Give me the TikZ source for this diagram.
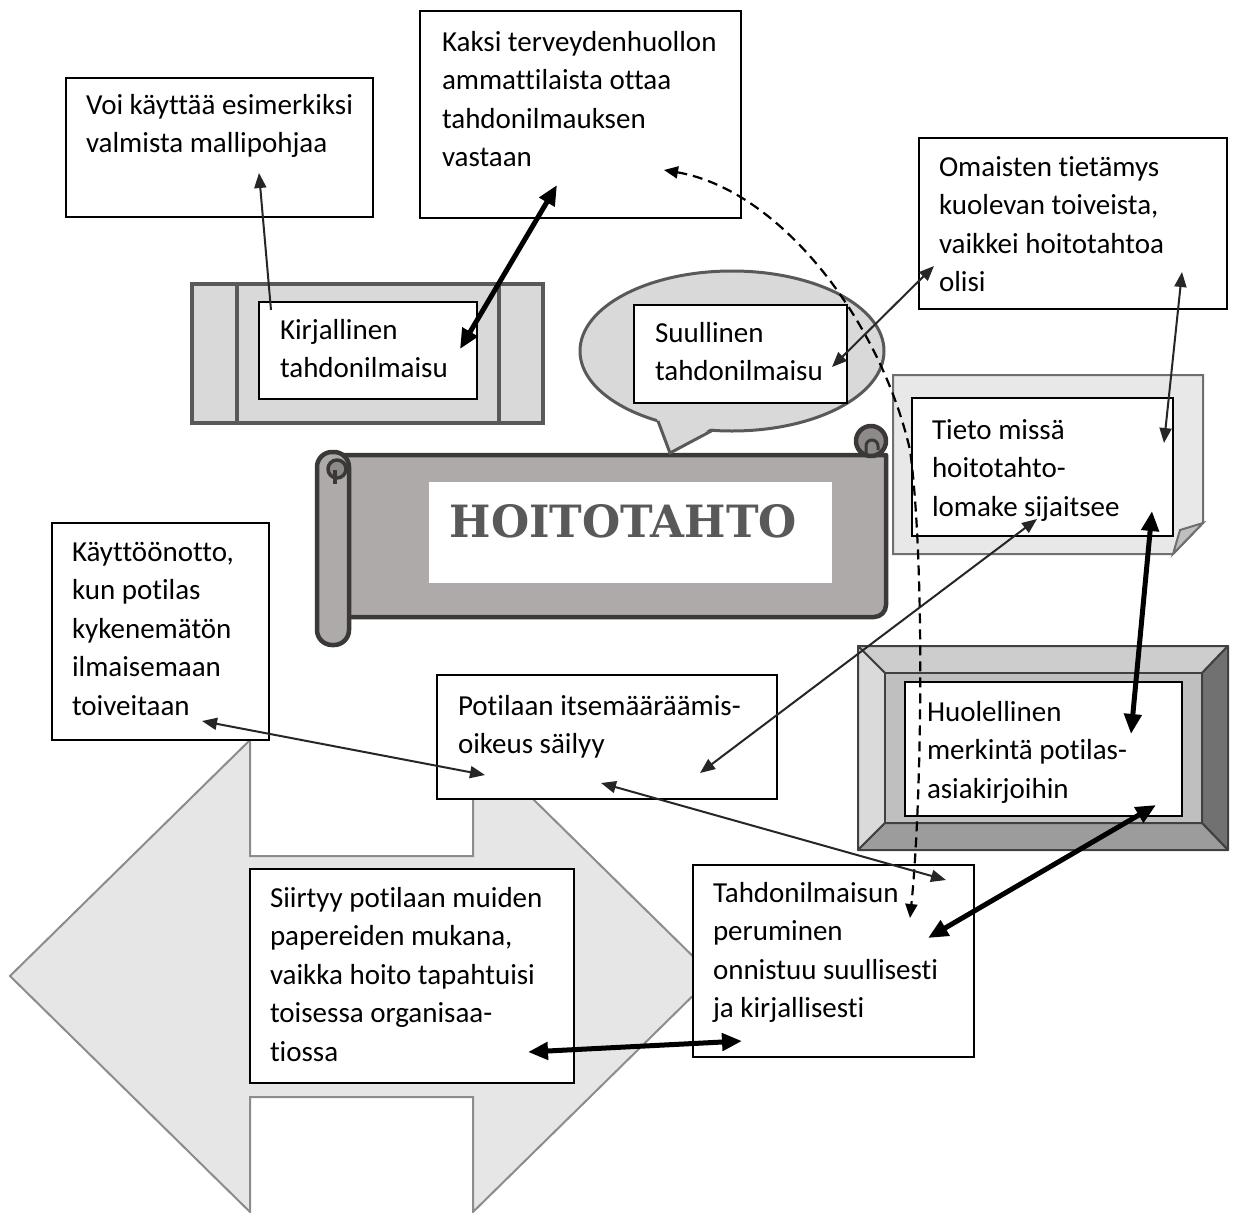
\documentclass[tikz,border=0pt]{standalone}
\usepackage{fontspec}
\setmainfont{Carlito}[Ligatures={NoCommon}]
\newfontfamily\titlefont{DejaVu Serif}
\usepackage{graphicx}
\usetikzlibrary{arrows.meta}
\definecolor{frameline}{HTML}{595959}
\definecolor{framefill}{HTML}{D9D9D9}
\definecolor{scrollfill}{HTML}{AEAAAA}
\definecolor{scrollline}{HTML}{3B3838}
\definecolor{rolldark}{HTML}{8E8A8A}
\definecolor{notefill}{HTML}{E8E8E8}
\definecolor{noteline}{HTML}{6F6F6F}
\definecolor{foldfill}{HTML}{BFBFBF}
\definecolor{bevtop}{HTML}{CDCDCD}
\definecolor{bevleft}{HTML}{DADADA}
\definecolor{bevright}{HTML}{717171}
\definecolor{bevbottom}{HTML}{9C9C9C}
\definecolor{bevinner}{HTML}{BFBFBF}
\definecolor{bevline}{HTML}{404040}
\definecolor{bigfill}{HTML}{E7E6E6}
\definecolor{bigline}{HTML}{8C8C8C}
\definecolor{titlegray}{HTML}{595959}
\definecolor{thinarrow}{HTML}{262626}
\newcommand{\boxtext}[1]{\parbox[t]{420pt}{\raggedright #1}}
\tikzset{
  tbox/.style={draw=black, line width=1.2pt, fill=white, anchor=north west, inner sep=0pt, outer sep=0pt},
  ttext/.style={anchor=base west, inner sep=0pt, outer sep=0pt, font=\fontsize{29}{38.5}\selectfont, text=black},
  framest/.style={draw=frameline, fill=framefill, line width=3.5pt},
  scrollst/.style={draw=scrollline, fill=scrollfill, line width=4.5pt, line join=round},
  bevst/.style={draw=bevline, line width=2pt, line join=round},
  thinarr/.style={draw=thinarrow, line width=2pt, {Triangle[length=15pt,width=12pt]}-{Triangle[length=15pt,width=12pt]}},
  thinone/.style={draw=thinarrow, line width=2pt, -{Triangle[length=15pt,width=12pt]}},
  thickarr/.style={draw=black, line width=5pt, {Triangle[length=20pt,width=17pt]}-{Triangle[length=20pt,width=17pt]}},
  dasharr/.style={draw=black, line width=2.2pt, dash pattern=on 10pt off 6pt, {Triangle[length=14pt,width=12pt]}-{Triangle[length=14pt,width=12pt]}}
}
\begin{document}
\begin{tikzpicture}[x=1pt,y=-1pt]
\useasboundingbox (0,0) rectangle (1235,1213);
\fill[white] (0,0) rectangle (1235,1213);

% big left-right arrow shape
\filldraw[fill=bigfill, draw=bigline, line width=2pt, line join=miter]
  (10,976) -- (250,740) -- (250,856) -- (473,856) -- (473,740) -- (713,976)
  -- (473,1212) -- (473,1097) -- (250,1097) -- (250,1212) -- cycle;

% top boxes
\node[tbox, minimum width=307pt, minimum height=139pt] (voi) at (66,78) {};
\node[ttext] (voit) at (86,114) {\boxtext{Voi käyttää esimerkiksi\\valmista mallipohjaa}};

\node[tbox, minimum width=321pt, minimum height=207pt] (kaksi) at (420,11) {};
\node[ttext] (kaksit) at (442,51) {\boxtext{Kaksi terveydenhuollon\\ammattilaista ottaa\\tahdonilmauksen\\vastaan}};

\node[tbox, minimum width=308pt, minimum height=171pt] (omaiset) at (919,138) {};
\node[ttext] (omaisett) at (939,176) {\boxtext{Omaisten tietämys\\kuolevan toiveista,\\vaikkei hoitotahtoa\\olisi}};

% Kirjallinen frame
\filldraw[framest] (192,284) rectangle (543,423);
\draw[frameline, line width=3.5pt] (237,284) -- (237,423) (499,284) -- (499,423);
\node[tbox, minimum width=218pt, minimum height=97pt] (kirj) at (259,302) {};
\node[ttext] (kirjt) at (280,339) {\boxtext{Kirjallinen\\tahdonilmaisu}};

% scroll
\filldraw[scrollst] (333,455) -- (886,455) -- (886,605) arc[start angle=0, end angle=90, radius=12] -- (333,617) -- cycle;
\filldraw[scrollst, fill=rolldark] (871,441) circle (15);
\draw[scrollline, line width=3pt] (866,455) -- (866,446) arc[start angle=180, end angle=360, radius=6] -- (878,450);
\filldraw[scrollst, rounded corners=15pt] (317,452) rectangle (349,645);
\filldraw[scrollst, fill=rolldark, line width=3.5pt] (337,469) circle (9);
\draw[scrollline, line width=3.5pt] (335,470) -- (335,484);
\node[fill=white, anchor=north west, inner sep=0pt, minimum width=403pt, minimum height=101pt] (title) at (429,482) {};
\node[inner sep=0pt, text=titlegray] (titlet) at (623.5,521.5) {\resizebox{347pt}{33pt}{\titlefont\bfseries HOITOTAHTO}};

% speech bubble
\filldraw[framest, line width=3pt] (732,351) ellipse [x radius=152, y radius=80];
\fill[framefill] (656,416) -- (670,453) -- (716,425) -- cycle;
\draw[frameline, line width=3pt, line join=miter] (658,421) -- (670,453) -- (713,430);
\node[tbox, minimum width=213pt, minimum height=98pt] (suul) at (634,305) {};
\node[ttext] (suult) at (655,342) {\boxtext{Suullinen\\tahdonilmaisu}};

% note with folded corner
\filldraw[fill=notefill, draw=noteline, line width=2pt, line join=miter]
  (893,375) -- (1203,375) -- (1203,523) -- (1173,554) -- (893,554) -- cycle;
\filldraw[fill=foldfill, draw=noteline, line width=2pt, line join=miter]
  (1173,554) -- (1180,530) -- (1203,523) -- cycle;
\node[tbox, minimum width=261pt, minimum height=138pt] (tieto) at (912,398) {};
\node[ttext] (tietot) at (932,439) {\boxtext{Tieto missä\\hoitotahto-\\lomake sijaitsee}};

% bevel frame
\filldraw[bevst, fill=bevtop] (858,646) -- (1228,646) -- (1202,673) -- (885,673) -- cycle;
\filldraw[bevst, fill=bevleft] (858,646) -- (885,673) -- (885,823) -- (858,850) -- cycle;
\filldraw[bevst, fill=bevright] (1228,646) -- (1228,850) -- (1202,823) -- (1202,673) -- cycle;
\filldraw[bevst, fill=bevbottom] (858,850) -- (1228,850) -- (1202,823) -- (885,823) -- cycle;
\filldraw[bevst, fill=bevinner] (885,673) rectangle (1202,823);
\node[tbox, minimum width=277pt, minimum height=134pt] (huol) at (905,682) {};
\node[ttext] (huolt) at (927,721) {\boxtext{Huolellinen\\merkintä potilas-\\asiakirjoihin}};

% lower boxes
\node[tbox, minimum width=217pt, minimum height=217pt] (kaytto) at (52,523) {};
\node[ttext] (kayttot) at (72,561) {\boxtext{Käyttöönotto,\\kun potilas\\kykenemätön\\ilmaisemaan\\toiveitaan}};

\node[tbox, minimum width=340pt, minimum height=124pt] (potilas) at (437,675) {};
\node[ttext] (potilast) at (458,715) {\boxtext{Potilaan itsemääräämis-\\oikeus säilyy}};

\node[tbox, minimum width=281pt, minimum height=192pt] (tahd) at (693,865) {};
\node[ttext] (tahdt) at (713,902) {\boxtext{Tahdonilmaisun\\peruminen\\onnistuu suullisesti\\ja kirjallisesti}};

\node[tbox, minimum width=324pt, minimum height=214pt] (siirtyy) at (250,869) {};
\node[ttext] (siirtyyt) at (270,907) {\boxtext{Siirtyy potilaan muiden\\papereiden mukana,\\vaikka hoito tapahtuisi\\toisessa organisaa-\\tiossa}};

% connector end points
\coordinate (kirjA) at (271,310);
\coordinate (voiA) at (259,173);
\coordinate (kirjB) at (460,349);
\coordinate (kaksiA) at (557,185);
\coordinate (kaksiB) at (664,170);
\coordinate (tahdA) at (910,918);
\coordinate (suulA) at (832,367);
\coordinate (omaA) at (934,266);
\coordinate (tietoA) at (1164,443);
\coordinate (omaB) at (1182,272);
\coordinate (tietoB) at (1152,511);
\coordinate (huolA) at (1131,734);
\coordinate (potA) at (700,773);
\coordinate (tietoC) at (1037,519);
\coordinate (kayA) at (202,721);
\coordinate (potB) at (485,775);
\coordinate (potC) at (601,783);
\coordinate (tahdB) at (946,880);
\coordinate (tahdC) at (928,938);
\coordinate (huolB) at (1156,805);
\coordinate (siirA) at (528,1052);
\coordinate (tahdD) at (742,1041);

% connectors
\draw[thinone] (kirjA) -- (voiA);
\draw[thickarr] (kirjB) -- (kaksiA);
\draw[dasharr] (kaksiB) .. controls (780,190) and (880,320) .. (910,450) .. controls (925,560) and (922,800) .. (tahdA);
\draw[thinarr] (suulA) -- (omaA);
\draw[thinarr] (tietoA) -- (omaB);
\draw[thickarr] (tietoB) -- (huolA);
\draw[thinarr] (potA) -- (tietoC);
\draw[thinarr] (kayA) -- (potB);
\draw[thinarr] (potC) -- (tahdB);
\draw[thickarr] (tahdC) -- (huolB);
\draw[thickarr] (siirA) -- (tahdD);
\end{tikzpicture}
\end{document}
